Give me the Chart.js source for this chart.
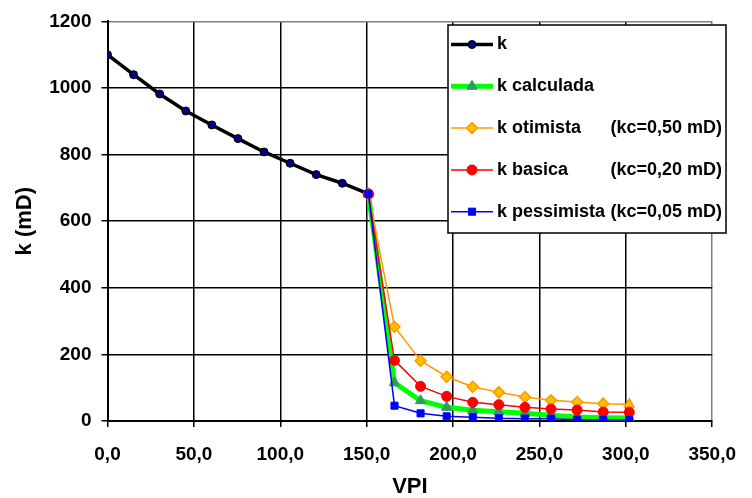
<!DOCTYPE html>
<html>
<head>
<meta charset="utf-8">
<script src="https://cdn.jsdelivr.net/npm/chart.js@4/dist/chart.umd.min.js"></script>
<style>
  body { margin: 0; background: #fff; }
</style>
</head>
<body>
<canvas id="myChart" width="752" height="498"></canvas>
<script>
// VPI values (volumes porosos injetados)
const vpiK = [0, 15.1, 30.2, 45.3, 60.4, 75.5, 90.6, 105.7, 120.8, 135.9, 151.0];
const vpiDano = [151.0, 166.1, 181.2, 196.3, 211.4, 226.5, 241.6, 256.7, 271.8, 286.9, 302.0];

// permeabilidade em mD
const kMedida = [1100, 1040, 982, 931, 889, 848, 808, 774, 740, 714, 682];
const kCalculada = [682, 115, 61, 41, 32, 28, 23, 17, 12, 10, 9];
const kOtimista = [682, 283, 181, 133, 103, 86, 72, 62, 57, 52, 50];
const kBasica = [682, 182, 104, 74, 56, 49, 41, 36, 33, 27, 26];
const kPessimista = [682, 46, 23, 14, 11, 8, 7, 7, 4, 3, 3];

const serieNomes = ['k', 'k calculada', 'k otimista', 'k basica', 'k pessimista'];
const serieKc = ['', '', '(kc=0,50 mD)', '(kc=0,20 mD)', '(kc=0,05 mD)'];

const xTicks = [0, 50, 100, 150, 200, 250, 300, 350];
const yTicks = [0, 200, 400, 600, 800, 1000, 1200];

const FONTE = "'Liberation Sans', Arial, sans-serif";

function pontos(xs, ys) {
  return xs.map((x, i) => ({ x: x, y: ys[i] }));
}

// legenda desenhada à mão (colunas com o kc alinhado à direita)
const legendaBox = {
  id: 'legendaBox',
  afterDraw(chart) {
    const ctx = chart.ctx;
    const x0 = 448, y0 = 25, w = 278, h = 208;
    ctx.save();
    ctx.fillStyle = '#fff';
    ctx.fillRect(x0, y0, w, h);
    ctx.strokeStyle = '#000';
    ctx.lineWidth = 1.5;
    ctx.strokeRect(x0, y0, w, h);

    chart.data.datasets.forEach((ds, i) => {
      const y = 44.5 + i * 41.8;
      ctx.strokeStyle = ds.borderColor;
      ctx.lineWidth = ds.borderWidth;
      ctx.beginPath();
      ctx.moveTo(451, y);
      ctx.lineTo(493, y);
      ctx.stroke();

      ctx.fillStyle = ds.pointBackgroundColor;
      ctx.strokeStyle = ds.pointBorderColor;
      ctx.lineWidth = ds.pointBorderWidth;
      Chart.helpers.drawPoint(ctx, {
        pointStyle: Array.isArray(ds.pointStyle) ? ds.pointStyle[0] : ds.pointStyle,
        radius: ds.pointRadius,
        borderWidth: ds.pointBorderWidth,
        rotation: 0
      }, 472, y);

      ctx.fillStyle = '#000';
      ctx.font = 'bold 18px ' + FONTE;
      ctx.textBaseline = 'middle';
      ctx.textAlign = 'left';
      ctx.fillText(serieNomes[i], 497, y);
      if (serieKc[i]) {
        ctx.textAlign = 'right';
        ctx.fillText(serieKc[i], 722, y);
      }
    });
    ctx.restore();
  }
};

const ctx = document.getElementById('myChart');
new Chart(ctx, {
  type: 'line',
  data: {
    datasets: [{
      label: serieNomes[0],
      data: pontos(vpiK, kMedida),
      borderColor: '#000',
      borderWidth: 3.5,
      pointStyle: 'circle',
      pointRadius: 4,
      pointBackgroundColor: '#000080',
      pointBorderColor: '#000',
      pointBorderWidth: 1,
      order: 5
    }, {
      label: serieNomes[1],
      data: pontos(vpiDano, kCalculada),
      borderColor: '#00ff00',
      borderWidth: 5,
      pointStyle: 'triangle',
      pointRadius: 6,
      pointBackgroundColor: '#339966',
      pointBorderColor: '#339966',
      pointBorderWidth: 1,
      order: 4
    }, {
      label: serieNomes[2],
      data: pontos(vpiDano, kOtimista),
      borderColor: '#ff9900',
      borderWidth: 1.5,
      pointStyle: ['rectRot', 'rectRot', 'rectRot', 'rectRot', 'rectRot', 'rectRot',
                   'rectRot', 'rectRot', 'rectRot', 'rectRot', 'triangle'],
      pointRadius: 5.5,
      pointBackgroundColor: '#ffc000',
      pointBorderColor: '#ff9900',
      pointBorderWidth: 1.5,
      order: 3
    }, {
      label: serieNomes[3],
      data: pontos(vpiDano, kBasica),
      borderColor: '#ff0000',
      borderWidth: 1.5,
      pointStyle: 'circle',
      pointRadius: 5,
      pointBackgroundColor: '#ff0000',
      pointBorderColor: '#ff0000',
      pointBorderWidth: 1,
      order: 2
    }, {
      label: serieNomes[4],
      data: pontos(vpiDano, kPessimista),
      borderColor: '#0000ff',
      borderWidth: 1.5,
      pointStyle: 'rect',
      pointRadius: 5,
      pointBackgroundColor: '#0000ff',
      pointBorderColor: '#0000ff',
      pointBorderWidth: 1,
      order: 1
    }]
  },
  options: {
    responsive: false,
    devicePixelRatio: 1,
    animation: false,
    layout: { padding: { top: 21, right: 28, left: 0, bottom: 0 } },
    plugins: {
      legend: { display: false },
      tooltip: { enabled: false }
    },
    scales: {
      x: {
        type: 'linear',
        min: 0,
        max: 350,
        afterBuildTicks: s => { s.ticks = xTicks.map(v => ({ value: v })); },
        afterFit: s => { s.height = 77; },
        grid: {
          color: c => (c.tick && c.tick.value === 350) ? '#808080' : '#000',
          tickColor: '#000',
          lineWidth: 1.5,
          tickLength: 6
        },
        border: { color: '#000', width: 2 },
        ticks: {
          color: '#000',
          padding: 16,
          font: { family: FONTE, size: 19, weight: 'bold' },
          callback: v => v.toFixed(1).replace('.', ',')
        },
        title: {
          display: true,
          text: 'VPI',
          color: '#000',
          font: { family: FONTE, size: 22, weight: 'bold', lineHeight: 1 },
          padding: { top: 0, bottom: 0 }
        }
      },
      y: {
        min: 0,
        max: 1200,
        afterBuildTicks: s => { s.ticks = yTicks.map(v => ({ value: v })); },
        afterFit: s => { s.width = 107.5; },
        grid: {
          color: c => (c.tick && c.tick.value === 1200) ? '#808080' : '#000',
          tickColor: '#000',
          lineWidth: 1.5,
          tickLength: 6
        },
        border: { color: '#000', width: 2 },
        ticks: {
          color: '#000',
          padding: 10,
          font: { family: FONTE, size: 19, weight: 'bold' },
          callback: v => String(v)
        },
        title: {
          display: true,
          text: 'k (mD)',
          color: '#000',
          font: { family: FONTE, size: 22, weight: 'bold', lineHeight: 1 },
          padding: { top: 13.5, bottom: 0 }
        }
      }
    }
  },
  plugins: [legendaBox]
});
</script>
</body>
</html>
